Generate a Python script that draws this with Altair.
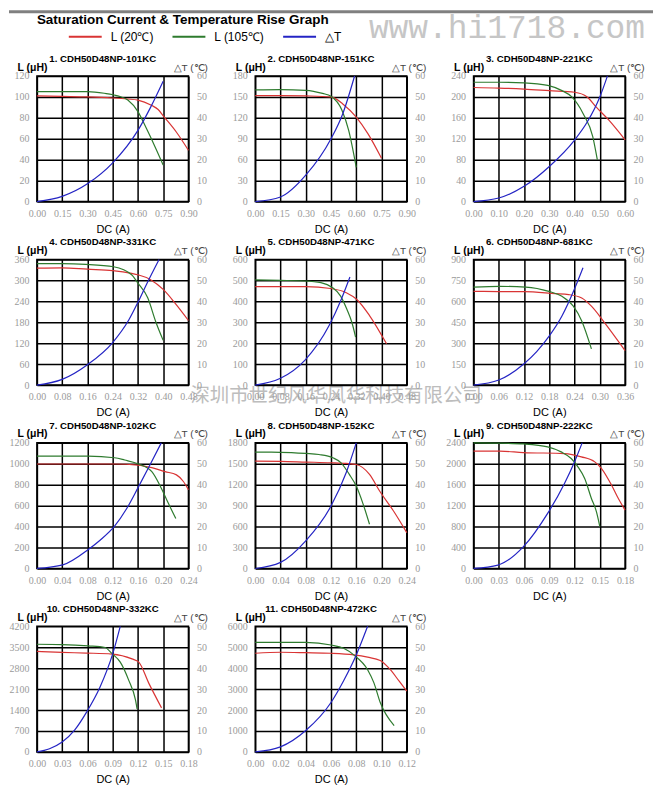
import altair as alt
import pandas as pd

# ---------------- data ----------------
TITLES = [
    "1. CDH50D48NP-101KC", "2. CDH50D48NP-151KC", "3. CDH50D48NP-221KC",
    "4. CDH50D48NP-331KC", "5. CDH50D48NP-471KC", "6. CDH50D48NP-681KC",
    "7. CDH50D48NP-102KC", "8. CDH50D48NP-152KC", "9. CDH50D48NP-222KC",
    "10. CDH50D48NP-332KC", "11. CDH50D48NP-472KC",
]
X_MAX = [0.90, 0.90, 0.60, 0.48, 0.48, 0.36, 0.24, 0.24, 0.18, 0.18, 0.12]
L_MAX = [120, 180, 240, 360, 600, 900, 1200, 1800, 2400, 4200, 6000]
T_MAX = 60

L20_DC = [
    [0, 0.15, 0.30, 0.45, 0.54, 0.60, 0.68, 0.72, 0.75, 0.83, 0.90],
    [0, 0.15, 0.30, 0.45, 0.52, 0.60, 0.67, 0.75],
    [0, 0.10, 0.20, 0.30, 0.40, 0.45, 0.485, 0.535, 0.60],
    [0, 0.08, 0.16, 0.24, 0.30, 0.32, 0.36, 0.40, 0.44, 0.48],
    [0, 0.08, 0.16, 0.239, 0.29, 0.321, 0.362, 0.416],
    [0, 0.06, 0.12, 0.194, 0.226, 0.257, 0.28, 0.311, 0.36],
    [0, 0.04, 0.08, 0.123, 0.16, 0.182, 0.203, 0.221, 0.232, 0.24],
    [0, 0.04, 0.08, 0.12, 0.144, 0.16, 0.181, 0.197, 0.219, 0.24],
    [0, 0.031, 0.059, 0.108, 0.128, 0.144, 0.152, 0.164, 0.172, 0.18],
    [0, 0.03, 0.059, 0.089, 0.113, 0.121, 0.133, 0.148],
    [0, 0.02, 0.04, 0.06, 0.078, 0.089, 0.099, 0.107, 0.114, 0.12],
]
L20_VAL = [
    [101, 100.5, 100, 99, 98, 97, 92, 88, 82, 66, 49],
    [152, 152, 151.5, 150, 140, 121, 97, 62],
    [218, 217, 215, 212, 209, 200, 181, 156, 118],
    [335, 336, 332, 328, 320, 316, 302, 274, 232, 185],
    [470, 470, 470, 461, 440, 410, 332, 197],
    [671, 670, 670, 655, 648, 624, 565, 448, 247],
    [998, 998, 998, 998, 988, 963, 925, 894, 831, 752],
    [1538, 1535, 1525, 1515, 1505, 1490, 1348, 1110, 824, 514],
    [2241, 2241, 2215, 2196, 2133, 2037, 1910, 1591, 1337, 1114],
    [3360, 3327, 3305, 3272, 3109, 3000, 2291, 1473],
    [4712, 4759, 4740, 4712, 4634, 4524, 4366, 3927, 3377, 2906],
]
L105_DC = [
    [0, 0.15, 0.30, 0.40, 0.48, 0.54, 0.60, 0.65, 0.70, 0.75],
    [0, 0.15, 0.30, 0.40, 0.45, 0.515, 0.555, 0.60],
    [0, 0.10, 0.20, 0.294, 0.35, 0.389, 0.434, 0.472, 0.49],
    [0, 0.08, 0.155, 0.243, 0.30, 0.32, 0.351, 0.377, 0.40],
    [0, 0.08, 0.157, 0.208, 0.244, 0.27, 0.29, 0.306, 0.318],
    [0, 0.062, 0.124, 0.179, 0.21, 0.237, 0.257, 0.28],
    [0, 0.04, 0.081, 0.123, 0.139, 0.161, 0.182, 0.197, 0.208, 0.22],
    [0, 0.04, 0.08, 0.101, 0.123, 0.136, 0.149, 0.16, 0.171, 0.181],
    [0, 0.03, 0.059, 0.088, 0.104, 0.116, 0.124, 0.132, 0.14, 0.146, 0.15],
    [0, 0.03, 0.061, 0.081, 0.089, 0.099, 0.109, 0.117, 0.119],
    [0, 0.02, 0.04, 0.06, 0.07, 0.078, 0.089, 0.094, 0.099, 0.11],
]
L105_VAL = [
    [105, 105, 105, 103.5, 101, 97, 86, 70, 53, 35],
    [160, 160.5, 159.5, 155, 151, 131, 102, 49],
    [228, 228, 227, 222, 212, 200, 168, 124, 80],
    [348, 348, 346, 339, 316, 292, 250, 180, 128],
    [502, 500, 497, 489, 466, 426, 363, 300, 229],
    [702, 707, 702, 671, 636, 565, 459, 259],
    [1074, 1074, 1074, 1058, 1036, 998, 925, 767, 625, 477],
    [1667, 1665, 1648, 1633, 1586, 1514, 1348, 1181, 919, 633],
    [2400, 2395, 2379, 2324, 2228, 2101, 1942, 1719, 1337, 1082, 800],
    [3600, 3590, 3545, 3491, 3294, 3000, 2400, 1745, 1440],
    [5230, 5230, 5230, 5105, 4948, 4634, 3927, 3298, 2356, 1257],
]
DT_DC = [
    [0, 0.15, 0.30, 0.45, 0.60, 0.675, 0.75],
    [0, 0.15, 0.30, 0.45, 0.52, 0.59],
    [0, 0.10, 0.20, 0.30, 0.40, 0.45, 0.50, 0.53],
    [0, 0.08, 0.16, 0.24, 0.29, 0.32, 0.35, 0.387],
    [0, 0.08, 0.157, 0.234, 0.27, 0.30],
    [0, 0.06, 0.12, 0.15, 0.18, 0.21, 0.24, 0.26],
    [0, 0.041, 0.082, 0.10, 0.123, 0.142, 0.16, 0.18, 0.197],
    [0, 0.04, 0.08, 0.12, 0.144, 0.16],
    [0, 0.029, 0.059, 0.088, 0.108, 0.12, 0.129],
    [0, 0.015, 0.03, 0.045, 0.059, 0.075, 0.09, 0.099],
    [0, 0.02, 0.04, 0.06, 0.07, 0.08, 0.089],
]
DT_VAL = [
    [0, 2.5, 8.5, 18.5, 34, 45, 57.5],
    [0, 2.2, 12.6, 30, 42, 60],
    [0, 1.7, 7.3, 16.8, 29.4, 38, 50, 60],
    [0, 2.7, 9.7, 20.3, 30.8, 39.5, 49, 60],
    [0, 3.2, 11.8, 28.4, 40, 51.6],
    [0, 2.4, 10.2, 16, 23.5, 33, 46, 56],
    [0, 1.7, 9.2, 13.5, 20.2, 28.5, 38.5, 50, 60],
    [0, 2.9, 13.2, 29.8, 45.7, 60],
    [0, 1.6, 10.3, 26.3, 40.6, 51, 60],
    [0, 1.5, 4.7, 10.5, 19, 31, 46.8, 60],
    [0, 2.4, 10.2, 23.6, 34, 46.3, 60],
]

SERIES = ["L (20℃)", "L (105℃)", "△T"]
COLORS = ["#d93434", "#2e7b2e", "#2424c4"]
MAIN_TITLE = ["Saturation Current & Temperature Rise  Graph"]
WATERMARK_WEB = ["www.hi1718.com"]
WATERMARK_CN = ["深圳市世纪风华风华科技有限公司"]

# ---------------- styling ----------------
W, H = 152, 126
LABEL_FONT = "Liberation Serif"
LABEL_COLOR = "#9a9a9a"
SANS = "Liberation Sans"

color_enc = alt.Color(
    "series:N",
    scale=alt.Scale(domain=SERIES, range=COLORS),
    legend=alt.Legend(
        orient="none", legendX=31, legendY=-57, direction="horizontal",
        title=None, symbolType="stroke", symbolSize=1089, symbolStrokeWidth=2,
        labelFontSize=12, labelFont=SANS, labelColor="black",
        labelOffset=8, columnPadding=14, padding=0, columns=3,
    ),
)


def decorations():
    bar = alt.Chart(pd.DataFrame({"k": [0]})).mark_rect(
        color="#808080", strokeWidth=0
    ).encode(x=alt.value(-28), x2=alt.value(618), y=alt.value(-66), y2=alt.value(-63))
    title = alt.Chart(pd.DataFrame({"t": MAIN_TITLE})).mark_text(
        align="left", baseline="middle", fontSize=13.5, fontWeight="bold", font=SANS, color="black"
    ).encode(x=alt.value(0), y=alt.value(-56), text="t:N")
    web = alt.Chart(pd.DataFrame({"t": WATERMARK_WEB})).mark_text(
        align="left", baseline="alphabetic", fontSize=33, font="Liberation Mono", color="#c6c6c6"
    ).encode(x=alt.value(333), y=alt.value(-38), text="t:N")
    cn = alt.Chart(pd.DataFrame({"t": WATERMARK_CN})).mark_text(
        align="left", baseline="middle", fontSize=19.5, font="Noto Sans CJK SC", color="#bdbdbd"
    ).encode(x=alt.value(154), y=alt.value(321), text="t:N")
    return [bar, title, web, cn]


def panel(i):
    xmax, lmax = X_MAX[i], L_MAX[i]
    xticks = [round(xmax * k / 6, 4) for k in range(7)]
    lticks = [round(lmax * k / 6) for k in range(7)]
    tticks = [round(T_MAX * k / 6) for k in range(7)]

    rows = []
    for s, xs, vs in ((SERIES[0], L20_DC[i], L20_VAL[i]), (SERIES[1], L105_DC[i], L105_VAL[i])):
        rows += [{"x": a, "v": b, "series": s} for a, b in zip(xs, vs)]
    df_l = pd.DataFrame(rows)
    df_t = pd.DataFrame({"x": DT_DC[i], "v": DT_VAL[i], "series": SERIES[2]})

    xenc = alt.X(
        "x:Q",
        scale=alt.Scale(domain=[0, xmax], nice=False, zero=True),
        axis=alt.Axis(
            values=xticks, format=".2f", title="DC (A)", grid=True,
            titleY=28, titleBaseline="middle", titleFontSize=11, titleFontWeight="normal",
            labelPadding=7,
        ),
    )
    left = alt.Chart(df_l).mark_line(interpolate="monotone", strokeWidth=1.2).encode(
        x=xenc,
        y=alt.Y(
            "v:Q",
            scale=alt.Scale(domain=[0, lmax], nice=False),
            axis=alt.Axis(
                orient="left", values=lticks, format="d", title="L (μH)", grid=True,
                titleAngle=0, titleX=-20, titleY=-9, titleAlign="left",
                titleBaseline="middle", titleFontSize=10.5, titleFontWeight="bold",
            ),
        ),
        color=color_enc,
    )
    right = alt.Chart(df_t).mark_line(interpolate="monotone", strokeWidth=1.2).encode(
        x=xenc,
        y=alt.Y(
            "v:Q",
            scale=alt.Scale(domain=[0, T_MAX], nice=False),
            axis=alt.Axis(
                orient="right", values=tticks, format="d", title="△T (℃)", grid=False,
                titleAngle=0, titleX=19, titleY=-9, titleAlign="right",
                titleBaseline="middle", titleFontSize=10, titleFontWeight="normal",
                titleColor="#444444",
            ),
        ),
        color=color_enc,
    )
    head = alt.Chart(pd.DataFrame({"t": [TITLES[i]]})).mark_text(
        align="center", baseline="middle", fontSize=9.7, font=SANS, fontWeight="bold", color="black"
    ).encode(x=alt.value(W / 2 - 10), y=alt.value(-17), text="t:N")
    layers = [left, right, head]
    if i == 0:
        layers += decorations()
    return alt.layer(*layers).resolve_scale(y="independent").properties(width=W, height=H)


chart = alt.concat(
    *[panel(i) for i in range(len(TITLES))],
    columns=3,
    spacing={"row": 58, "column": 67},
    bounds="flush",
    padding={"left": 0, "top": 0, "right": 0, "bottom": 0},
).configure(
    padding={"left": 0, "top": 0, "right": 0, "bottom": 0}
).configure_view(
    stroke="black", strokeWidth=1.5
).configure_axis(
    labelFont=LABEL_FONT, labelFontSize=10, labelColor=LABEL_COLOR,
    labelFlush=False, labelOverlap=False, labelPadding=8,
    gridColor="black", gridWidth=1.5, gridOpacity=1,
    domain=False, ticks=False,
    titleFont=SANS, titleColor="black",
)

chart.save("out.html", embed_options={"renderer": "svg", "actions": False})
